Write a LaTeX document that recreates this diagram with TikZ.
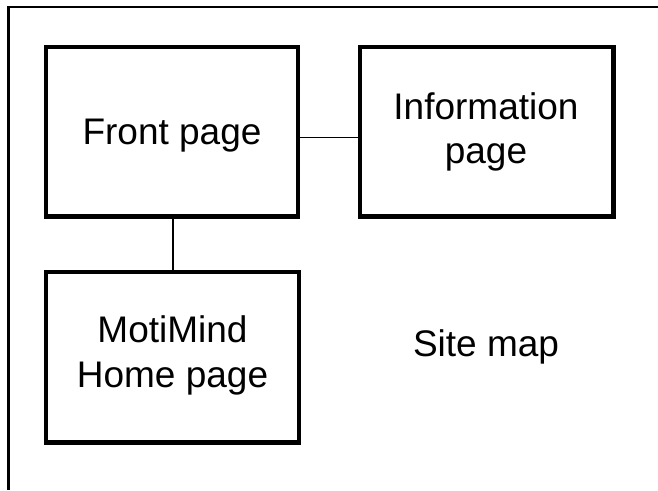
\documentclass[tikz,border=0pt]{standalone}
\usepackage{fontspec}
\setmainfont{Liberation Sans}
\begin{document}
\begin{tikzpicture}[x=1pt,y=-1pt,
  pagebox/.style={draw=black, line width=4.2pt, rectangle, inner sep=0pt},
  lbl/.style={inner sep=0pt, align=center, font=\fontsize{37}{44.5}\selectfont},
  conn/.style={draw=black, line width=1.3pt},
  frame/.style={draw=black, line width=2.5pt}]
\useasboundingbox (0,0) rectangle (658,490);
% frame (left and top edges)
\coordinate (fbl) at (8.7,490);
\coordinate (ftl) at (8.7,7);
\coordinate (ftr) at (658,7);
\draw[frame] (fbl) -- (ftl) -- (ftr);
% boxes
\node[pagebox, minimum width=252pt, minimum height=169.5pt] (front) at (172,131.75) {};
\node[pagebox, minimum width=253.5pt, minimum height=169.5pt] (info) at (486.75,131.75) {};
\node[pagebox, minimum width=253pt, minimum height=170.5pt] (moti) at (172.5,357.25) {};
% texts
\node[lbl, anchor=base] (tfront) at (172,144) {Front page};
\node[lbl, anchor=base] (tinfo) at (486,163.5) {Information\\page};
\node[lbl, anchor=base] (tmoti) at (172.5,387) {MotiMind\\Home page};
\node[lbl, anchor=base] (tsite) at (486,356) {Site map};
% connectors
\draw[conn] ([yshift=-5.5pt]front.east) -- ([yshift=-5.5pt]info.west);
\draw[conn] ([xshift=1pt]front.south) -- ([xshift=1pt]front.south |- moti.north);
\end{tikzpicture}
\end{document}
